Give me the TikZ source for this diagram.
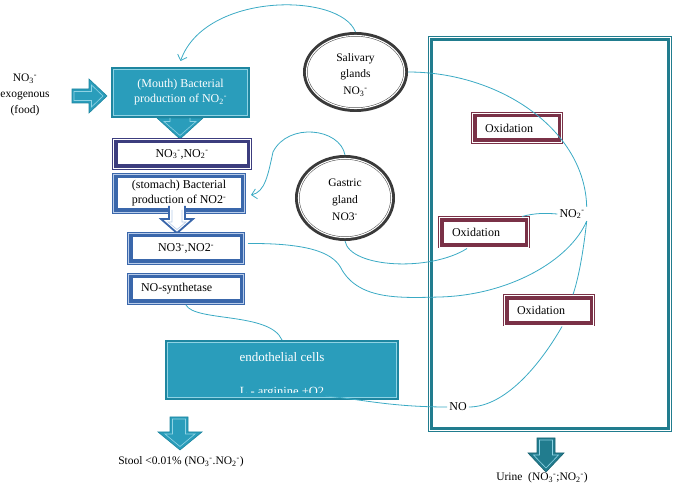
\documentclass[tikz,border=0pt]{standalone}
\usepackage{fontspec}
\setmainfont{Liberation Serif}
\usetikzlibrary{arrows.meta,shapes.geometric}
\definecolor{tealA}{HTML}{2A9DBB}
\definecolor{tealB}{HTML}{1E86A0}
\definecolor{tealL}{HTML}{8FD3E4}
\definecolor{frameT}{HTML}{217C8E}
\definecolor{curveC}{HTML}{3AAAC4}
\definecolor{navyB}{HTML}{3C3D7E}
\definecolor{blueB}{HTML}{3A67AB}
\definecolor{blueL}{HTML}{B8CCEA}
\definecolor{maroonB}{HTML}{7A3147}
\definecolor{pinkL}{HTML}{E8C8D2}
\definecolor{grayE}{HTML}{3A3A3A}
\newcommand\ionss[2]{\textsubscript{#1}\textsuperscript{#2}}
\newcommand\inframe[3]{\draw[#3] ([shift={(#2,#2)}]#1.south west) rectangle ([shift={(-#2,-#2)}]#1.north east);}
\begin{document}
\begin{tikzpicture}[x=1pt,y=-1pt,
  txt/.style={font=\fontsize{12}{15}\selectfont, align=center, inner sep=1pt},
  box/.style={rectangle, inner sep=0pt, align=center, font=\fontsize{12}{15}\selectfont},
  bandbox/.style={box, line width=5.5pt, fill=white},
  oxbox/.style={bandbox, draw=maroonB, minimum width=86.5pt, minimum height=26.5pt,
     text width=64pt, align=left, inner xsep=11pt},
  link/.style={draw=curveC, line width=0.8pt},
  barb/.style={-{Straight Barb[length=5pt,width=10pt]}},
  gland/.style={ellipse, draw=grayE, line width=4.5pt, fill=white, inner sep=0pt}]
\useasboundingbox (0,0) rectangle (678,486);

% big frame
\node[box, draw=frameT, line width=5pt, minimum width=239pt, minimum height=391pt] (frame) at (550,234) {};
\inframe{frame}{1.4pt}{white, line width=1.1pt}

% exogenous text and arrow
\node[txt, font=\fontsize{11.5}{16}\selectfont] (exo) at (25,95) {NO\ionss{3}{-}\\exogenous\\(food)};
\draw[fill=tealA, draw=tealB, line width=0.6pt] (72,89) -- (89,89) -- (89,79) -- (107,96) -- (89,113) -- (89,103) -- (72,103) -- cycle;
\draw[tealL, line width=0.6pt] (74,91.5) -- (91.5,91.5) -- (91.5,85) -- (103,96) -- (91.5,107) -- (91.5,100.5) -- (74,100.5) -- cycle;

% mouth box
\node[box, fill=tealA, draw=tealB, line width=3pt, text=white, minimum width=136pt, minimum height=48pt] (mouth) at (180.5,92.5) {(Mouth) Bacterial\\production of NO\ionss{2}{-}};
\inframe{mouth}{2.2pt}{tealL, line width=0.7pt}
% head below mouth
\draw[fill=tealA, draw=tealB, line width=0.6pt] (157,118) -- (203,118) -- (180,139) -- cycle;
\draw[tealL, line width=0.6pt] (170,118) -- (170,121.5) -- (164,121.5) -- (180,135.5) -- (196,121.5) -- (190,121.5) -- (190,118);

% NO3,NO2 box 1
\node[bandbox, draw=navyB, minimum width=134.5pt, minimum height=26.5pt] (no31) at (182,154) {NO\ionss{3}{-},NO\ionss{2}{-}};
\inframe{no31}{1.3pt}{white, line width=1pt}

% stomach box
\node[bandbox, draw=blueB, minimum width=128.5pt, minimum height=35.5pt] (stom) at (179,193.5) {(stomach) Bacterial\\production of NO2\textsuperscript{-}};
\inframe{stom}{1.3pt}{blueL, line width=1pt}
% hollow arrow stomach -> second box
\fill[white] (169,206) -- (185,206) -- (185,219) -- (193,219) -- (177,233) -- (161,219) -- (169,219) -- cycle;
\draw[blueB, line width=1.8pt, line join=miter] (169,206) -- (169,219) -- (161,219) -- (177,233) -- (193,219) -- (185,219) -- (185,206);
\draw[blueL, line width=0.6pt] (172,210) -- (172,222) -- (168,222) -- (177,229.5) -- (186,222) -- (182,222) -- (182,210);

% NO3,NO2 box 2
\node[bandbox, draw=blueB, minimum width=112.5pt, minimum height=27.5pt] (no32) at (186,248.5) {NO3\textsuperscript{-},NO2\textsuperscript{-}};
\inframe{no32}{1.3pt}{blueL, line width=1pt}

% NO-synthetase
\node[bandbox, draw=blueB, minimum width=112.5pt, minimum height=26.5pt, text width=90pt, align=left, inner xsep=10pt] (nosyn) at (186,289) {NO-synthetase};
\inframe{nosyn}{1.3pt}{blueL, line width=1pt}

% endothelial cells
\node[box, fill=tealA, draw=tealB, line width=3pt, minimum width=231pt, minimum height=57pt] (endo) at (282,370) {};
\inframe{endo}{2.2pt}{tealL, line width=0.7pt}
\node[txt, text=white, font=\fontsize{13}{15}\selectfont] (endotxt) at (282,357) {endothelial cells};
\begin{scope}
\clip (165,340) rectangle (399,393);
\node[txt, text=white, font=\fontsize{12.5}{15}\selectfont, anchor=base] (larg) at (282,396) {L - arginine +O2};
\end{scope}

% stool
\draw[fill=tealA, draw=tealB, line width=0.6pt] (170,417) -- (188,417) -- (188,432) -- (202,432) -- (180,450) -- (158,432) -- (170,432) -- cycle;
\draw[tealL, line width=0.6pt] (172.5,419) -- (185.5,419) -- (185.5,434) -- (195,434) -- (180,446.5) -- (165,434) -- (172.5,434) -- cycle;
\node[txt, font=\fontsize{11.5}{14}\selectfont] (stool) at (181,462) {Stool <0.01\% (NO\ionss{3}{-}.NO\ionss{2}{-})};

% urine
\draw[fill=frameT, draw=frameT!80!black, line width=0.6pt] (537,438) -- (555,438) -- (555,453) -- (564,453) -- (546,472) -- (528,453) -- (537,453) -- cycle;
\draw[tealL, line width=0.6pt] (539.5,440) -- (552.5,440) -- (552.5,455) -- (558.5,455) -- (546,468) -- (533.5,455) -- (539.5,455) -- cycle;
\node[txt, font=\fontsize{11.5}{14}\selectfont] (urine) at (542,478) {Urine\ \ (NO\ionss{3}{-};NO\ionss{2}{-})};

% glands
\node[gland, minimum width=100.5pt, minimum height=75.5pt] (sal) at (355.5,72) {};
\draw[white, line width=1.1pt] (sal.center) ellipse [x radius=49pt, y radius=36.5pt];
\node[txt, align=center, font=\fontsize{11.5}{16}\selectfont] (saltxt) at (355.5,75) {Salivary\\glands\\[1pt]NO\ionss{3}{-}};

\node[gland, minimum width=95.5pt, minimum height=81.5pt] (gas) at (345,198) {};
\draw[white, line width=1.1pt] (gas.center) ellipse [x radius=46.5pt, y radius=39.5pt];
\node[txt, align=center, font=\fontsize{11.5}{17}\selectfont] (gastxt) at (345,200) {Gastric\\gland\\NO3\textsuperscript{-}};

% oxidation boxes
\node[oxbox] (ox1) at (517,128) {Oxidation};
\inframe{ox1}{1.3pt}{white, line width=1pt}
\node[oxbox] (ox2) at (484,232.5) {Oxidation};
\inframe{ox2}{1.3pt}{white, line width=1pt}
\node[oxbox] (ox3) at (549,310.5) {Oxidation};
\inframe{ox3}{1.3pt}{white, line width=1pt}

% labels
\node[txt, inner sep=2pt] (no2) at (572,214) {NO\ionss{2}{-}};
\node[txt, inner sep=2pt] (no) at (458,407) {NO};

% connectors
\draw[link, barb] (sal.north) .. controls (340,-8) and (205,-8) .. ([yshift=6pt]mouth.north);
\draw[link] (sal.east) .. controls (500,72) and (585,130) .. (no2.north east);
\draw[link, barb] (gas.north) .. controls (340,128) and (288,122) .. (273,152) .. controls (268,175) and (265,192) .. ([xshift=5pt,yshift=-1.5pt]stom.east);
\draw[link] (gas.south) .. controls (350,268) and (430,272) .. ([xshift=-17pt]ox2.south);
\draw[link] ([xshift=-8pt]ox2.north east) .. controls (535,213) and (545,213) .. (no2.west);
\draw[link] ([xshift=3pt,yshift=5pt]no32.east) .. controls (315,243) and (335,255) .. (342,270) .. controls (360,300) and (400,298) .. (440,297) .. controls (510,295) and (570,260) .. (no2.south east);
\draw[link] (no2.south east) .. controls (583,255) and (578,280) .. ([xshift=24pt]ox3.north);
\draw[link] ([xshift=13pt]ox3.south) .. controls (540,365) and (505,407) .. (no.east);
\draw[link] (no.west) .. controls (390,407) and (360,399) .. (larg.east |- 0,396);
\draw[link] (nosyn.south) .. controls (195,322) and (270,312) .. (endo.north);
\end{tikzpicture}
\end{document}
